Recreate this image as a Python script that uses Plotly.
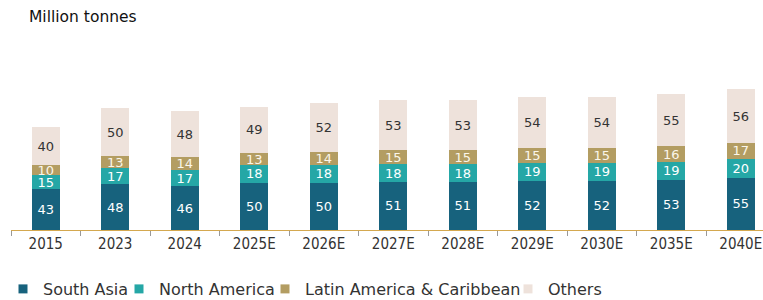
import plotly.graph_objects as go

years = ["2015", "2023", "2024", "2025E", "2026E", "2027E", "2028E", "2029E", "2030E", "2035E", "2040E"]
south_asia = [43, 48, 46, 50, 50, 51, 51, 52, 52, 53, 55]
north_america = [15, 17, 17, 18, 18, 18, 18, 19, 19, 19, 20]
latin_america = [10, 13, 14, 13, 14, 15, 15, 15, 15, 16, 17]
others = [40, 50, 48, 49, 52, 53, 53, 54, 54, 55, 56]

series = [
    ("South Asia", south_asia, "#17627d", "#ffffff"),
    ("North America", north_america, "#25a7a6", "#ffffff"),
    ("Latin America & Caribbean", latin_america, "#b39d62", "#fbf6ea"),
    ("Others", others, "#eee2db", "#333333"),
]
legend_text_x = [43, 159, 305, 548]   # x where each legend label starts

FONT = "DejaVu Sans"
TICKFONT = "DejaVu Sans Condensed, DejaVu Sans"
W, H = 763, 300          # body margin is removed below
L, R, T, B = 11, 0, 40, 70
PW, PH = W - L - R, H - T - B

fig = go.Figure()
legend_ids = ["legend", "legend2", "legend3", "legend4"]
for (name, vals, color, tcolor), lid in zip(series, legend_ids):
    fig.add_trace(go.Bar(
        name=name, x=years, y=vals, marker_color=color, marker_line_width=0,
        text=[str(v) for v in vals], textposition="inside", insidetextanchor="middle",
        textangle=0, textfont=dict(family=FONT, size=13, color=tcolor),
        constraintext="none", width=0.4, legendgroup=name, showlegend=False,
    ))
    # legend entry with a small square key
    fig.add_trace(go.Scatter(
        name=name, x=[None], y=[None], mode="markers",
        marker=dict(symbol="square", size=9, color=color),
        legendgroup=name, showlegend=True, legend=lid, hoverinfo="skip",
    ))

legend_common = dict(orientation="h", xanchor="left",
                     y=(T + PH - 289) / PH, yanchor="middle",
                     font=dict(family=FONT, size=16, color="#333333"),
                     itemwidth=30, bgcolor="rgba(0,0,0,0)")
legends = {}
for lid, tx in zip(legend_ids, legend_text_x):
    legends[lid] = dict(legend_common, x=(tx - 40 - L) / PW)

fig.update_layout(
    barmode="stack",
    width=W, height=H,
    margin=dict(l=L, r=R, t=T, b=B, autoexpand=False),
    paper_bgcolor="white", plot_bgcolor="white",
    font=dict(family=FONT, color="#333333"),
    uniformtext=dict(mode="show", minsize=13),
    showlegend=True,
    **legends,
)
fig.add_annotation(text="Million tonnes", xref="paper", yref="paper",
                   x=(27 - L) / PW, y=(T + PH - 17) / PH,
                   xanchor="left", yanchor="middle", showarrow=False,
                   font=dict(family=FONT, size=15.5, color="#111111"))

fig.update_xaxes(
    range=[-0.5, 10.32], showline=True, linecolor="#d4a84f", linewidth=1,
    ticks="outside", ticklen=5, tickcolor="#999999", tickson="boundaries",
    tickfont=dict(family=TICKFONT, size=15, color="#333333"), showgrid=False,
    ticklabeloverflow="allow",
)
fig.update_yaxes(range=[0, 200], visible=False, showgrid=False)

fig.write_html(
    "out.html",
    config={"displayModeBar": False},
    post_script="document.body.style.margin='0';"
                "document.body.style.overflow='hidden';",
)
